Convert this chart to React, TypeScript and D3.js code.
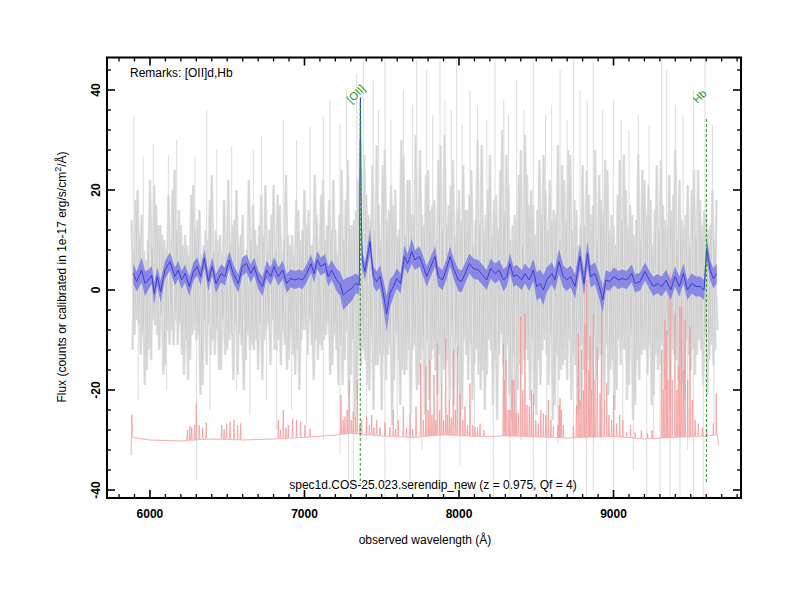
import * as d3 from "d3"
import React from "react"

// smoothed spectrum: [wavelength, flux, error]
const smoothed = [
    [5892, 3.3, 2.0], [5914, 1.7, 2.0], [5946, 4.0, 2.5], [5968, 1.3, 2.5], [5989, 2, 2.0], [6011, 3, 1.8],
    [6028, -0.7, 2.2], [6047, 2.7, 1.8], [6069, -0.3, 2.2], [6097, 4, 1.8], [6129, 5.7, 1.8], [6162, 2.7, 1.8],
    [6183, 4, 1.8], [6205, 2, 1.8], [6227, 3.3, 1.8], [6255, 0.7, 1.9], [6281, 3.7, 1.8], [6306, 4.7, 1.8],
    [6328, 2.7, 1.8], [6352, 6.3, 1.8], [6378, 1.7, 1.9], [6403, 4.7, 1.8], [6427, 1.3, 1.9], [6460, 3.3, 1.8],
    [6485, 2.7, 1.8], [6513, 6, 1.8], [6539, 3.3, 1.8], [6572, 1.3, 1.8], [6598, 4.7, 1.8], [6626, 5.3, 1.8],
    [6652, 3.3, 1.8], [6675, 4.7, 1.8], [6701, 2, 1.8], [6729, 0.7, 1.9], [6755, 4, 1.8], [6781, 2.7, 1.8],
    [6803, 4.7, 1.8], [6831, 2.7, 1.8], [6859, 4, 1.8], [6885, 1.3, 1.9], [6910, 2.3, 1.8], [6938, 2, 1.8],
    [6964, 2.3, 1.8], [6988, 2, 1.8], [7014, 3.3, 1.8], [7042, 5.3, 1.8], [7062, 3.3, 1.8], [7083, 6, 1.8],
    [7105, 4.7, 1.8], [7133, 5.3, 1.8], [7154, 2.7, 2.0], [7176, 4, 2.0], [7208, 2, 2.2], [7230, 1.3, 2.4],
    [7251, -1, 3.0], [7277, -0.3, 2.8], [7305, 0.3, 2.5], [7333, 1.3, 2.0], [7355, 1, 1.8], [7362, 38.5, 1.5],
    [7368, 14, 1.8], [7374, 6, 1.8], [7392, 3.7, 1.8], [7424, 9.7, 2.5], [7446, 2.7, 2.0], [7467, 1.7, 2.0],
    [7489, 2.7, 2.2], [7510, -0.7, 2.8], [7532, -4.7, 3.5], [7553, -0.7, 2.8], [7575, 0.7, 2.2], [7597, 2.3, 2.0],
    [7622, 1.3, 2.0], [7646, 6.7, 2.2], [7668, 5.3, 2.0], [7694, 7.7, 2.5], [7715, 6, 2.0], [7743, 6.7, 2.0],
    [7769, 4.7, 2.0], [7791, 2.7, 2.0], [7817, 4.7, 2.0], [7845, 6.7, 2.0], [7866, 2.7, 2.0], [7894, 2, 2.0],
    [7920, 4.3, 2.0], [7942, 6.7, 2.0], [7968, 4, 2.0], [7996, 2, 2.2], [8017, 1.7, 2.2], [8039, 3.3, 2.0],
    [8067, 5.3, 2.0], [8093, 4.3, 2.0], [8125, 4, 2.0], [8153, 3, 2.0], [8179, 2, 2.0], [8205, 4.3, 2.0],
    [8233, 3.3, 2.0], [8261, 4, 2.0], [8287, 2, 2.2], [8309, 2.7, 2.0], [8330, 5.3, 2.0], [8352, 2.7, 2.0],
    [8373, 3, 2.0], [8406, 2, 2.0], [8427, 3.3, 2.0], [8455, 2, 2.2], [8481, 4, 2.2], [8503, 0.7, 2.8],
    [8524, 1.3, 2.8], [8546, 0, 3.0], [8567, 2, 2.5], [8600, 3.3, 2.2], [8621, 2, 2.2], [8647, 5.7, 2.5],
    [8675, 2.7, 2.2], [8697, 2, 2.2], [8723, 2.7, 2.2], [8751, 0.7, 2.4], [8783, 6.7, 2.5], [8809, 1.3, 2.4],
    [8831, 7.3, 2.5], [8852, 2.7, 2.2], [8880, 3.3, 2.2], [8908, 0.7, 2.4], [8930, -2, 2.5], [8951, 2, 2.0],
    [8977, 1.7, 1.8], [9003, 2.7, 1.8], [9031, 2, 1.8], [9057, 2.3, 1.8], [9085, 2, 1.8], [9118, 3.3, 1.8],
    [9139, 1.3, 1.8], [9172, 1.7, 1.8], [9204, 3.7, 1.8], [9232, 2, 1.8], [9258, 0.7, 1.9], [9284, 1.3, 1.9],
    [9312, 0.7, 2.0], [9340, 2, 2.0], [9370, 0, 2.0], [9398, 2.7, 2.0], [9426, 0.7, 2.0], [9452, 3.3, 2.0],
    [9478, 0, 2.0], [9506, 1.3, 2.0], [9534, 0.7, 2.0], [9560, 0.7, 2.0], [9586, 0, 2.0], [9603, 8.3, 2.2],
    [9625, 4, 2.0], [9646, 2.3, 2.0], [9668, 3.3, 2.0],
]

// raw spectra (grey), every 20 A; three exposures offset in wavelength
const rawStep = 20
const rawStarts = [5880, 5887, 5893]
const rawFluxA = [
    14, -9, 20, -13, 8, -16, 22, -6, 17, -12,
    11, -15, 19, -8, 24, -11, 13, -17, 9, -14,
    21, -10, 16, -19, 12, -7, 23, -13, 10, -16,
    18, -12, 9, -18, 20, -9, 15, -14, 22, -11,
    12, -16, 19, -10, 8, -15, 21, -12, 17, -8,
    23, -14, 11, -17, 16, -10, 20, -13, 9, -18,
    15, -11, 22, -9, 18, -15, 12, -19, 24, -14,
    26, -17, 14, -22, 30, -12, 19, -20, 25, -15,
    17, -24, 28, -13, 21, -18, 11, -23, 27, -16,
    22, -12, 31, -19, 15, -25, 24, -14, 18, -21,
    29, -16, 13, -22, 26, -11, 20, -24, 16, -18,
    24, -15, 30, -20, 12, -17, 27, -23, 19, -13,
    32, -18, 21, -26, 15, -20, 28, -14, 23, -22,
    17, -25, 26, -12, 20, -19, 14, -23, 29, -16,
    22, -18, 27, -13, 16, -24, 25, -17, 19, -21,
    28, -14, 18, -22, 24, -16, 13, -20, 26, -12,
    20, -19, 15, -23, 27, -13, 22, -17, 18, -21,
    25, -15, 17, -20, 23, -12, 28, -18, 14, -22,
    21, -16, 24, -13, 18, -19, 15, -14, 20, -12,
]
const rawFluxB = [
    -12, 18, -7, 15, -19, 10, -14, 21, -9, 13,
    -17, 8, -11, 20, -6, 16, -13, 11, -18, 19,
    -8, 14, -21, 9, -15, 18, -10, 12, -16, 7,
    -13, 22, -9, 14, -17, 11, -20, 8, -12, 17,
    -10, 13, -18, 21, -7, 15, -12, 19, -15, 10,
    -16, 9, -13, 18, -20, 12, -8, 16, -11, 23,
    -14, 19, -10, 13, -17, 22, -12, 15, -19, 18,
    -21, 13, -26, 22, -15, 27, -19, 14, -24, 29,
    -13, 25, -18, 16, -27, 20, -14, 30, -17, 22,
    -25, 15, -20, 28, -12, 23, -22, 17, -16, 26,
    -19, 31, -14, 21, -23, 16, -28, 25, -13, 19,
    -22, 14, -17, 29, -24, 20, -12, 18, -26, 24,
    -15, 27, -21, 13, -29, 23, -17, 31, -14, 20,
    -23, 16, -19, 27, -13, 22, -26, 15, -18, 25,
    -14, 28, -22, 18, -25, 13, -16, 24, -20, 17,
    -18, 23, -13, 26, -21, 15, -24, 19, -15, 27,
    -22, 17, -26, 14, -18, 24, -12, 21, -23, 16,
    -16, 26, -20, 13, -24, 19, -14, 22, -19, 15,
    -13, 20, -17, 24, -12, 16, -21, 13, -15, 18,
]
const rawFluxC = [
    8, -6, 11, -9, 6, -12, 9, -7, 13, -5,
    10, -8, 6, -11, 12, -7, 9, -10, 7, -9,
    12, -9, 7, -6, 10, -13, 8, -8, 11, -6,
    7, -10, 13, -7, 9, -11, 6, -9, 10, -12,
    9, -7, 11, -8, 12, -6, 8, -10, 7, -11,
    11, -9, 7, -12, 10, -8, 13, -6, 9, -10,
    8, -12, 10, -7, 12, -9, 7, -11, 10, -8,
    13, -10, 16, -12, 9, -14, 15, -9, 12, -15,
    10, -13, 14, -11, 17, -9, 12, -16, 11, -12,
    15, -11, 9, -14, 13, -10, 16, -12, 10, -13,
    12, -15, 17, -9, 11, -13, 14, -10, 16, -11,
    9, -12, 13, -16, 15, -10, 11, -14, 12, -9,
    16, -11, 10, -13, 14, -15, 9, -12, 17, -10,
    11, -14, 15, -10, 12, -9, 16, -13, 10, -15,
    14, -10, 12, -15, 9, -11, 13, -14, 15, -9,
    10, -13, 16, -11, 12, -14, 9, -10, 14, -12,
    13, -9, 11, -14, 10, -12, 15, -11, 9, -13,
    12, -11, 14, -9, 16, -13, 10, -12, 13, -10,
    9, -12, 11, -10, 13, -9, 12, -11, 10, -8,
]

// tall pixels in the raw spectra: [wavelength, low, high]
const rawSpikes = [
    [5896, 5, 34.7], [5957, 8, 26.7], [6022, 5, 29.3], [6119, 6, 27], [6173, 8, 30], [6291, 5, 26.7],
    [6367, 6, 36], [6432, 6, 28], [6529, 5, 28.7], [6669, 6, 28], [6723, 5, 30.7], [6863, 6, 34],
    [6949, 5, 30], [7036, 5, 32.7], [7122, 6, 34.7], [7165, 5, 38], [7230, 5, 33.3], [7273, 5, 40],
    [7338, 5, 43.3],
    [5924, -22, -5], [6108, -20, -5], [6302, -38, -5], [6388, -24, -5], [6561, -20, -5], [6647, -25, -5],
    [6755, -22, -5], [6820, -28, -5], [6917, -24, -5], [7014, -27, -5], [7122, -30, -5], [7230, -33, -5],
    [7284, -38, -5], [7316, -39, -5],
    [7381, 5, 46], [7445, 5, 42], [7521, 5, 46], [7640, 5, 40], [7726, 5, 46], [7791, 5, 44], [7877, 5, 46],
    [7909, 5, 38], [7985, 5, 46], [8071, 5, 40], [8233, 5, 46], [8373, 5, 42], [8481, 5, 46], [8654, 5, 44],
    [8740, 5, 46], [8783, 5, 40], [8869, 5, 46], [8999, 5, 38], [9312, 5, 46], [9344, 5, 44], [9517, 5, 40],
    [9592, 5, 46],
    [7480, 5, 36], [7560, 5, 34], [7700, 5, 37], [7830, 5, 35], [7950, 5, 36], [8020, 5, 33], [8120, 5, 37],
    [8180, 5, 34], [8290, 5, 38], [8320, 5, 35], [8420, 5, 36], [8560, 5, 35], [8600, 5, 37], [8700, 5, 34],
    [8830, 5, 38], [8930, 5, 36], [9050, 5, 34], [9100, 5, 32], [9160, 5, 35], [9230, 5, 33], [9400, 5, 37],
    [9450, 5, 35], [9640, 5, 33],
    [7521, -46, -5], [7683, -38, -5], [7877, -46, -5], [8007, -35, -5], [8222, -42, -5], [8330, -46, -5],
    [8481, -40, -5], [8567, -46, -5], [8740, -44, -5], [8826, -46, -5], [8869, -40, -5], [8999, -46, -5],
    [9128, -36, -5], [9215, -46, -5], [9301, -42, -5], [9366, -46, -5], [9430, -46, -5], [9517, -44, -5],
    [9581, -46, -5],
    [7400, -30, -5], [7600, -28, -5], [7760, -32, -5], [7940, -29, -5], [8100, -27, -5], [8400, -30, -5],
    [8640, -31, -5], [8920, -30, -5], [9060, -28, -5], [9260, -30, -5], [9480, -32, -5], [9650, -27, -5],
]

// sky spectrum (red): continuum level and emission lines
const skyBase = [
    [5878, -33], [5882, -25], [5890, -29.5], [6000, -30], [6200, -30.2], [6400, -29.8], [6600, -30],
    [6800, -29.8], [7000, -29.5], [7200, -29], [7300, -28.7], [7500, -29.2], [7700, -29.5], [7900, -29],
    [8100, -29.3], [8300, -29.2], [8500, -29.4], [8700, -29.6], [8800, -29.5], [9000, -29.3], [9200, -29.8],
    [9400, -29.5], [9600, -29.2], [9672, -29], [9680, -31],
]
const skyLines = [
    [6242, -28], [6258, -27.2], [6270, -27.5], [6288, -27], [6300, -22.7], [6319, -27], [6341, -27.5],
    [6364, -26.5], [6464, -27], [6480, -27.8], [6496, -26.7], [6518, -26.3], [6544, -26], [6567, -27],
    [6587, -26.7], [6831, -26], [6845, -28], [6863, -24], [6880, -27.5], [6895, -27], [6923, -25.7],
    [6949, -26], [6975, -26.3], [7003, -27], [7036, -27.7], [7236, -21], [7250, -26], [7262, -25.3],
    [7276, -24], [7290, -18], [7303, -26], [7316, -24.3], [7329, -25.5], [7342, -18], [7359, -27],
    [7370, -26], [7402, -25.3], [7420, -27], [7435, -25], [7450, -27.5], [7467, -26], [7489, -27.5],
    [7521, -26.5], [7553, -27.5], [7575, -24], [7590, -27.8], [7607, -26], [7640, -23.3], [7660, -27.5],
    [7683, -25], [7700, -27.8], [7722, -23.3], [7752, -14.7], [7770, -26], [7786, -15.3], [7800, -24],
    [7812, -14], [7825, -25], [7838, -17], [7850, -26], [7860, -10.7], [7875, -24], [7888, -18.7],
    [7900, -26], [7914, -9.7], [7925, -25], [7937, -22], [7950, -25.5], [7963, -12], [7976, -24],
    [7989, -11.3], [8007, -20.7], [8025, -26], [8039, -23.3], [8055, -27], [8071, -18.7], [8090, -27],
    [8104, -27.3], [8120, -27.5], [8136, -26.7], [8162, -28], [8287, -10.7], [8295, -18], [8304, -14],
    [8318, -24], [8330, -24], [8344, -18], [8356, -18], [8370, -24.5], [8384, -24.7], [8399, -5.3],
    [8413, -20], [8427, -4.7], [8440, -23], [8455, -23.3], [8468, -20], [8481, -20.7], [8497, -26],
    [8513, -26.7], [8530, -24], [8546, -24.7], [8562, -25], [8578, -22], [8595, -26], [8611, -27.3],
    [8640, -27], [8648, -23], [8654, -21.7], [8662, -24], [8675, -27], [8740, -27.3], [8760, -23],
    [8772, -8.7], [8783, -22], [8794, -12], [8805, -20], [8815, -6.7], [8827, 2], [8840, -16],
    [8848, -9.3], [8858, -20], [8869, -4.7], [8880, -18], [8895, -11.3], [8913, -20.7], [8923, 2],
    [8940, -22], [8956, -18.7], [8970, -25], [8988, -26], [9001, -21], [9020, -26.7], [9040, -25],
    [9060, -26], [9085, -28.5], [9110, -27], [9140, -28.5], [9180, -28], [9220, -28.7], [9250, -28],
    [9312, -12], [9322, -20], [9333, -6], [9345, -8], [9352, -18], [9366, 3.3], [9380, -18], [9398, -4.7],
    [9410, -20], [9420, -15.3], [9430, -3.3], [9441, -3.3], [9452, -16], [9463, -6], [9480, -18],
    [9495, -7.3], [9510, -22], [9528, -26], [9549, -26.7], [9575, -27.5], [9603, -28], [9646, -26.7],
    [9665, -20.7],
]

// identified lines
const lineNames = ["[OII]", "Hb"]
const lineWaves = [7361, 9601]
const lineTops = [37.4, 34.2]

const xTicks = [6000, 7000, 8000, 9000]
const yTicks = [-40, -20, 0, 20, 40]

const FONT = "'Liberation Sans', Arial, Helvetica, sans-serif"

const App = () => {
    const x = d3.scaleLinear().domain([5722, 9825]).range([107, 741])
    const y = d3.scaleLinear().domain([-41.6, 46.5]).range([498, 57.5])
    const [x0, x1] = x.range()
    const [y0, y1] = y.range()

    const rawPaths = [rawFluxA, rawFluxB, rawFluxC].map((vals, k) =>
        d3.line<number>().x((_, i) => x(rawStarts[k] + i * rawStep)).y(v => y(v))(vals))

    // sky: continuum with narrow emission peaks
    const baseAt = (w: number) => {
        const i = d3.bisector((d: number[]) => d[0]).left(skyBase, w)
        const a = skyBase[Math.max(0, i - 1)], b = skyBase[Math.min(skyBase.length - 1, i)]
        if (a === b) return a[1]
        return a[1] + (b[1] - a[1]) * (w - a[0]) / (b[0] - a[0])
    }
    const skyPts: number[][] = [...skyBase]
    skyLines.forEach(([w, f]) => {
        skyPts.push([w - 3, baseAt(w - 3)], [w, f], [w + 3, baseAt(w + 3)])
    })
    skyPts.sort((a, b) => a[0] - b[0])
    const skyPath = d3.line<number[]>().x(d => x(d[0])).y(d => y(d[1]))(skyPts)

    const band = d3.area<number[]>()
        .x(d => x(d[0])).y0(d => y(d[1] - d[2])).y1(d => y(d[1] + d[2]))(smoothed)
    const smoothPath = d3.line<number[]>().x(d => x(d[0])).y(d => y(d[1]))(smoothed)

    const xMinor = d3.range(5800, 9801, 100).filter(v => v % 1000 !== 0)
    const yMinor = d3.range(-40, 47, 4).filter(v => v % 20 !== 0)

    return (
        <svg width={800} height={600} style={{ position: "absolute", left: 0, top: 0, background: "#fff" }}
            fontFamily={FONT}>
            <defs>
                <clipPath id="plot">
                    <rect x={x0} y={y1} width={x1 - x0} height={y0 - y1} />
                </clipPath>
            </defs>
            <g clipPath="url(#plot)">
                {rawSpikes.map(([w, lo, hi], i) => (
                    <line key={i} x1={x(w)} x2={x(w)} y1={y(lo)} y2={y(hi)} stroke="#dcdcdc" strokeWidth={1} />
                ))}
                {rawPaths.map((d, i) => (
                    <path key={"w" + i} d={d} fill="none" stroke="#e4e4e4" strokeWidth={2.6} />
                ))}
                {rawPaths.map((d, i) => (
                    <path key={i} d={d} fill="none" stroke="#a0a0a0" strokeOpacity={0.22} strokeWidth={1.1} />
                ))}
                <path d={skyPath} fill="none" stroke="#f29a9a" strokeWidth={0.8} />
                <path d={band} fill="#7676e6" fillOpacity={0.8} />
                <path d={smoothPath} fill="none" stroke="#3535d5" strokeWidth={0.9} />
                {lineWaves.map((w, i) => (
                    <line key={i} x1={x(w)} x2={x(w)} y1={y(lineTops[i])} y2={y(-38.8)}
                        stroke="#229922" strokeWidth={1} strokeDasharray="3,2" />
                ))}
            </g>
            {lineWaves.map((w, i) => (
                <text key={i} transform={`translate(${x(w) - 9},${y(37.2)}) rotate(-45)`}
                    fontSize={11} fill="#229922">{lineNames[i]}</text>
            ))}

            {/* frame and inward ticks */}
            <rect x={x0} y={y1} width={x1 - x0} height={y0 - y1} fill="none" stroke="#000" strokeWidth={2} />
            {xTicks.map(v => (
                <g key={v} stroke="#000" strokeWidth={1.6}>
                    <line x1={x(v)} x2={x(v)} y1={y0} y2={y0 - 8} />
                    <line x1={x(v)} x2={x(v)} y1={y1} y2={y1 + 8} />
                </g>
            ))}
            {xMinor.map(v => (
                <g key={v} stroke="#000" strokeWidth={1.3}>
                    <line x1={x(v)} x2={x(v)} y1={y0} y2={y0 - 4} />
                    <line x1={x(v)} x2={x(v)} y1={y1} y2={y1 + 4} />
                </g>
            ))}
            {yTicks.map(v => (
                <g key={v} stroke="#000" strokeWidth={1.6}>
                    <line x1={x0} x2={x0 + 8} y1={y(v)} y2={y(v)} />
                    <line x1={x1} x2={x1 - 8} y1={y(v)} y2={y(v)} />
                </g>
            ))}
            {yMinor.map(v => (
                <g key={v} stroke="#000" strokeWidth={1.3}>
                    <line x1={x0} x2={x0 + 4} y1={y(v)} y2={y(v)} />
                    <line x1={x1} x2={x1 - 4} y1={y(v)} y2={y(v)} />
                </g>
            ))}

            {xTicks.map(v => (
                <text key={v} x={x(v)} y={518} textAnchor="middle" fontSize={12} fontWeight="bold">{v}</text>
            ))}
            {yTicks.map(v => (
                <text key={v} transform={`translate(99.5,${y(v)}) rotate(-90)`} textAnchor="middle"
                    fontSize={12} fontWeight="bold">{v}</text>
            ))}

            <text x={425} y={544} textAnchor="middle" fontSize={12}>observed wavelength (Å)</text>
            <text transform="translate(66,277) rotate(-90)" textAnchor="middle" fontSize={12}>
                Flux (counts or calibrated in 1e-17 erg/s/cm<tspan dy={-5} fontSize={9}>2</tspan>
                <tspan dy={5}>/Å)</tspan>
            </text>
            <text x={130} y={77} fontSize={12}>Remarks: [OII]d,Hb</text>
            <text x={433} y={489} textAnchor="middle" fontSize={12}>
                spec1d.COS-25.023.serendip_new (z = 0.975, Qf = 4)
            </text>
        </svg>
    )
}

export default App
